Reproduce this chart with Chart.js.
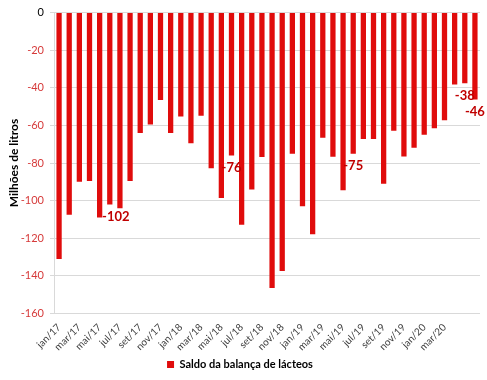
<!DOCTYPE html>
<html>
<head>
<meta charset="utf-8">
<script src="https://cdn.jsdelivr.net/npm/chart.js@4"></script>
<style>
  html, body { margin: 0; padding: 0; background: #fff; }
  #wrap { width: 487px; height: 380px; }
</style>
</head>
<body>
<div id="wrap"><canvas id="chart-saldo"></canvas></div>
<script>
const months = [
  "jan/17","fev/17","mar/17","abr/17","mai/17","jun/17","jul/17","ago/17","set/17","out/17","nov/17","dez/17",
  "jan/18","fev/18","mar/18","abr/18","mai/18","jun/18","jul/18","ago/18","set/18","out/18","nov/18","dez/18",
  "jan/19","fev/19","mar/19","abr/19","mai/19","jun/19","jul/19","ago/19","set/19","out/19","nov/19","dez/19",
  "jan/20","fev/20","mar/20","abr/20","mai/20","jun/20"
];
// milhões de litros
const saldo = [
  -131, -107.5, -90, -89.5, -109, -102, -104, -89.5, -64, -59.5, -46.5, -64,
  -55.3, -69.5, -54.8, -82.7, -98.6, -76, -112.8, -94.1, -76.8, -146.4, -137.4, -75,
  -103, -117.8, -66.5, -76.7, -94.5, -75, -67.2, -67.2, -91, -62.8, -76.5, -71.9,
  -64.9, -61.5, -57.2, -38.2, -37.6, -46.2
];
// rótulos do eixo x: de dois em dois meses, até mar/20
const tickMonths = months.filter((m, i) => i % 2 === 0 && i <= 38);
const labeledMonths = ["jun/17", "jun/18", "jun/19", "mai/20", "jun/20"];
const yTicks = [0, -20, -40, -60, -80, -100, -120, -140, -160];

const FONT = "Lato, 'Open Sans', sans-serif";

const barLabels = {
  id: "barLabels",
  afterDatasetsDraw(chart) {
    const { ctx } = chart;
    const meta = chart.getDatasetMeta(0);
    ctx.save();
    ctx.font = "bold 13px " + FONT;
    ctx.fillStyle = "#c00000";
    ctx.textAlign = "center";
    ctx.textBaseline = "middle";
    labeledMonths.forEach(m => {
      const i = months.indexOf(m);
      const bar = meta.data[i];
      const dx = m === "jun/17" ? 6 : 0;
      ctx.fillText(Math.round(saldo[i]), bar.x + dx, bar.y + 12);
    });
    ctx.restore();
  }
};

new Chart(document.getElementById("chart-saldo").getContext("2d"), {
  type: "bar",
  data: {
    labels: months,
    datasets: [{
      label: "Saldo da balança de lácteos",
      data: saldo,
      backgroundColor: "#e00c0c",
      borderWidth: 0,
      barPercentage: 0.52,
      categoryPercentage: 1
    }]
  },
  options: {
    responsive: true,
    maintainAspectRatio: false,
    animation: false,
    layout: { padding: { top: 7, right: 7, left: 0, bottom: 0 } },
    plugins: {
      tooltip: { enabled: false },
      legend: {
        position: "bottom",
        labels: {
          boxWidth: 7,
          boxHeight: 7,
          padding: 6,
          color: "#000",
          font: { family: FONT, size: 11, weight: "bold" }
        }
      }
    },
    scales: {
      x: {
        grid: { display: false },
        border: { display: false },
        ticks: {
          autoSkip: false,
          minRotation: 45,
          maxRotation: 45,
          padding: 0,
          color: "#404040",
          font: { family: FONT, size: 10 },
          callback: (v, i) => (tickMonths.includes(months[i]) ? months[i] : "")
        }
      },
      y: {
        min: -160,
        max: 0,
        afterFit(scale) { scale.width = 54; },
        afterBuildTicks(scale) { scale.ticks = yTicks.map(v => ({ value: v })); },
        grid: { color: "#d9d9d9", tickLength: 4 },
        border: { display: true, color: "#d9d9d9" },
        ticks: {
          padding: 6,
          color: c => (c.tick.value === 0 ? "#000" : "#d63a3a"),
          font: { family: FONT, size: 11 }
        },
        title: {
          display: true,
          text: "Milhões de litros",
          color: "#000",
          padding: { top: 7, bottom: 0 },
          font: { family: FONT, size: 12, weight: "bold" }
        }
      }
    }
  },
  plugins: [barLabels]
});
</script>
</body>
</html>
